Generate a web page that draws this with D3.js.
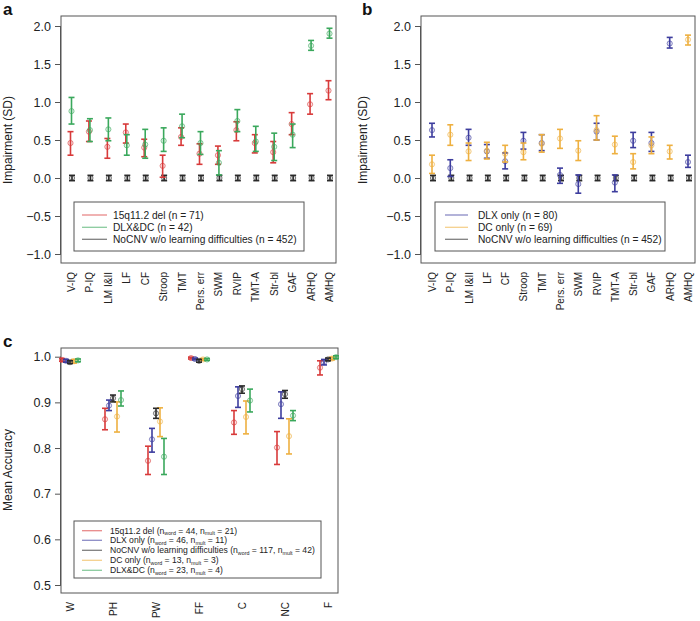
<!DOCTYPE html>
<html><head><meta charset="utf-8">
<script src="https://cdn.jsdelivr.net/npm/d3@7/dist/d3.min.js"></script>
<style>body{margin:0;background:#fff}svg{font-family:"Liberation Sans",Arial,sans-serif}</style>
</head><body><svg id="c" width="700" height="621"></svg>
<script>
// ---------- DATA ----------
const catsAB = ["V-IQ","P-IQ","LM I&II","LF","CF","Stroop","TMT","Pers. err","SWM","RVIP","TMT-A","Str-bl","GAF","ARHQ","AMHQ"];
const ticksAB = [-1.0,-0.5,0.0,0.5,1.0,1.5,2.0];

// panel a
const delMean = [0.46,0.61,0.41,0.60,0.40,0.16,0.54,0.32,0.30,0.63,0.46,0.34,0.71,0.97,1.15];
const delLo   = [0.30,0.48,0.26,0.46,0.28,0.01,0.43,0.18,0.18,0.49,0.33,0.20,0.57,0.84,1.03];
const delHi   = [0.61,0.75,0.52,0.71,0.51,0.30,0.66,0.45,0.42,0.74,0.57,0.48,0.86,1.11,1.28];
const ddMean  = [0.88,0.63,0.64,0.43,0.44,0.49,0.68,0.46,0.20,0.75,0.48,0.41,0.57,1.74,1.90];
const ddLo    = [0.71,0.48,0.49,0.30,0.26,0.35,0.53,0.31,0.04,0.61,0.35,0.23,0.40,1.68,1.84];
const ddHi    = [1.06,0.78,0.79,0.57,0.64,0.66,0.84,0.61,0.36,0.90,0.68,0.59,0.71,1.81,1.97];
const noMean  = [0,0,0,0,0,0,0,0,0,0,0,0,0,0,0];
const noLo    = [-0.035,-0.035,-0.035,-0.035,-0.035,-0.035,-0.035,-0.035,-0.035,-0.035,-0.035,-0.035,-0.035,-0.035,-0.035];
const noHi    = [0.035,0.035,0.035,0.035,0.035,0.035,0.035,0.035,0.035,0.035,0.035,0.035,0.035,0.035,0.035];

// panel b
const dlxMean = [0.63,0.13,0.53,0.35,0.22,0.49,0.46,0.04,-0.08,0.61,-0.06,0.49,0.46,1.77,0.21];
const dlxLo   = [0.54,0.02,0.43,0.26,0.12,0.38,0.36,-0.07,-0.20,0.50,-0.18,0.40,0.35,1.71,0.14];
const dlxHi   = [0.72,0.24,0.64,0.44,0.33,0.60,0.57,0.13,0.04,0.72,0.04,0.60,0.60,1.85,0.30];
const dcMean  = [0.18,0.57,0.35,0.36,0.32,0.34,0.45,0.52,0.36,0.63,0.44,0.21,0.43,0.35,1.82];
const dcLo    = [0.06,0.43,0.23,0.25,0.21,0.24,0.34,0.39,0.23,0.50,0.32,0.12,0.32,0.25,1.75];
const dcHi    = [0.30,0.70,0.46,0.47,0.43,0.46,0.57,0.64,0.49,0.82,0.55,0.32,0.54,0.43,1.88];

// panel c
const catsC = ["W","PH","PW","FF","C","NC","F"];
const ticksC = [0.5,0.6,0.7,0.8,0.9,1.0];
const cDelMean = [0.993,0.863,0.772,0.997,0.856,0.801,0.976];
const cDelLo   = [0.990,0.840,0.742,0.995,0.830,0.764,0.960];
const cDelHi   = [0.996,0.887,0.804,0.999,0.882,0.836,0.991];
const cDlxMean = [0.991,0.893,0.819,0.995,0.914,0.896,0.988];
const cDlxLo   = [0.988,0.882,0.791,0.993,0.889,0.865,0.982];
const cDlxHi   = [0.994,0.905,0.843,0.997,0.934,0.923,0.994];
const cNoMean  = [0.988,0.909,0.876,0.991,0.929,0.918,0.994];
const cNoLo    = [0.985,0.901,0.865,0.988,0.920,0.909,0.991];
const cNoHi    = [0.991,0.916,0.887,0.994,0.936,0.926,0.997];
const cDcMean  = [0.990,0.869,0.858,0.994,0.868,0.826,0.996];
const cDcLo    = [0.986,0.835,0.825,0.992,0.831,0.787,0.993];
const cDcHi    = [0.994,0.901,0.888,0.996,0.903,0.864,0.999];
const cDdMean  = [0.992,0.905,0.781,0.994,0.904,0.871,0.999];
const cDdLo    = [0.989,0.892,0.742,0.992,0.879,0.860,0.996];
const cDdHi    = [0.995,0.925,0.821,0.996,0.929,0.882,1.002];

// ---------- STYLE ----------
const COL = {del:"#d83a3a", dd:"#3aa85c", no:"#2a2a2a", dlx:"#3d3d9e", dc:"#eeb040"};
const FONT = '"Liberation Sans",Arial,sans-serif';

const svg = d3.select("#c");

function zip(m,l,h){ return m.map((v,i)=>({i, m:v, lo:l[i], hi:h[i]})); }

function panel(cfg){
  const g = svg.append("g");
  const {x0,x1,y0,y1} = cfg.box;
  const x = d3.scalePoint().domain(cfg.cats).range([x0+cfg.padL, x1-cfg.padR]);
  const y = d3.scaleLinear().domain(cfg.ydom).range(cfg.yrange);
  // box
  g.append("rect").attr("x",x0).attr("y",y0).attr("width",x1-x0).attr("height",y1-y0)
    .attr("fill","none").attr("stroke","#555").attr("stroke-width",1);
  // y axis
  const ya = d3.axisLeft(y).tickValues(cfg.yticks).tickFormat(d3.format(".1f")).tickSize(6).tickPadding(4);
  const yg = g.append("g").attr("transform",`translate(${x0},0)`).call(ya);
  yg.select(".domain").remove();
  yg.append("line").attr("x1",-0.5).attr("x2",-0.5).attr("y1",y(cfg.yticks[0])).attr("y2",y(cfg.yticks[cfg.yticks.length-1])).attr("stroke","#555");
  yg.selectAll(".tick line").attr("stroke","#555");
  yg.selectAll(".tick text").attr("font-size",12.5).attr("fill","#222").style("font-family",FONT);
  // x labels
  const xa = d3.axisBottom(x).tickSize(0).tickPadding(0);
  const xg = g.append("g").attr("transform",`translate(0,${y1})`).call(xa);
  xg.select(".domain").remove();
  xg.selectAll(".tick text").attr("font-size",cfg.xfs).attr("fill","#222")
    .attr("text-anchor","end").attr("transform","rotate(-90)")
    .attr("x",-9).attr("y",0).attr("dy","0.35em")
    .style("font-family",FONT);
  // y title
  g.append("text").attr("transform",`translate(${cfg.titleX},${cfg.titleY}) rotate(-90)`)
    .attr("text-anchor","middle").attr("font-size",12).attr("fill","#222").text(cfg.title);
  // panel letter
  g.append("text").attr("x",cfg.letterX).attr("y",cfg.letterY).attr("font-size",17)
    .attr("font-weight","bold").attr("fill","#111").text(cfg.letter);
  // series
  cfg.series.forEach(s=>{
    const sg = g.append("g").attr("stroke",s.color).attr("fill","none");
    const pts = zip(s.m,s.lo,s.hi);
    const cx = d=> x(cfg.cats[d.i]) + s.off;
    sg.selectAll("line.v").data(pts).join("line").attr("class","v")
      .attr("x1",cx).attr("x2",cx).attr("y1",d=>y(d.lo)).attr("y2",d=>y(d.hi)).attr("stroke-width",1.6);
    sg.selectAll("line.t").data(pts).join("line").attr("class","t")
      .attr("x1",d=>cx(d)-3).attr("x2",d=>cx(d)+3).attr("y1",d=>y(d.hi)).attr("y2",d=>y(d.hi)).attr("stroke-width",1.6);
    sg.selectAll("line.b").data(pts).join("line").attr("class","b")
      .attr("x1",d=>cx(d)-3).attr("x2",d=>cx(d)+3).attr("y1",d=>y(d.lo)).attr("y2",d=>y(d.lo)).attr("stroke-width",1.6);
    sg.selectAll("circle").data(pts).join("circle")
      .attr("cx",cx).attr("cy",d=>y(d.m)).attr("r",2.6).attr("stroke-width",1)
      .attr("stroke-opacity",0.6).attr("fill",s.color).attr("fill-opacity",0.12);
  });
  // legend
  const L = cfg.legend;
  g.append("rect").attr("x",L.x0).attr("y",L.y0).attr("width",L.x1-L.x0).attr("height",L.y1-L.y0)
    .attr("fill","#fff").attr("stroke","#555").attr("stroke-width",1);
  L.items.forEach((it,k)=>{
    const yy = L.rows[k];
    g.append("line").attr("x1",L.lx0).attr("x2",L.lx1).attr("y1",yy).attr("y2",yy)
      .attr("stroke",it.color).attr("stroke-opacity",0.6).attr("stroke-width",1.3);
    const t = g.append("text").attr("x",L.tx).attr("y",yy+L.fs*0.35)
      .attr("font-size",L.fs).attr("fill","#222");
    let low = false;
    it.parts.forEach(p=>{
      if (typeof p === "string") {
        const ts = t.append("tspan").text(p);
        if (low) { ts.attr("dy",-1.5); low = false; }
      } else {
        t.append("tspan").attr("font-size",L.fs*0.62).attr("dy",1.5).text(p.t);
        low = true;
      }
    });
  });
}

panel({
  box:{x0:61,x1:336,y0:16,y1:263}, cats:catsAB, padL:10, padR:7, ydom:[-1,2], yrange:[254,26], yticks:ticksAB, xfs:10,
  title:"Impairment (SD)", titleX:12, titleY:140, letter:"a", letterX:3, letterY:15,
  series:[
    {m:noMean,lo:noLo,hi:noHi,color:COL.no,off:1},
    {m:delMean,lo:delLo,hi:delHi,color:COL.del,off:-0.5},
    {m:ddMean,lo:ddLo,hi:ddHi,color:COL.dd,off:0.5}
  ],
  legend:{x0:74,x1:304,y0:202,y1:251,lx0:82,lx1:107,tx:113,fs:10.2,rows:[215,227.3,239.3],
    items:[{color:COL.del,parts:["15q11.2 del (n = 71)"]},
           {color:COL.dd,parts:["DLX&DC (n = 42)"]},
           {color:COL.no,parts:["NoCNV w/o learning difficulties (n = 452)"]}]}
});

panel({
  box:{x0:421,x1:695,y0:16,y1:263}, cats:catsAB, padL:11, padR:7, ydom:[-1,2], yrange:[254,26], yticks:ticksAB, xfs:10,
  title:"Impairment (SD)", titleX:367, titleY:140, letter:"b", letterX:362, letterY:15,
  series:[
    {m:noMean,lo:noLo,hi:noHi,color:COL.no,off:1},
    {m:dlxMean,lo:dlxLo,hi:dlxHi,color:COL.dlx,off:0},
    {m:dcMean,lo:dcLo,hi:dcHi,color:COL.dc,off:0}
  ],
  legend:{x0:435,x1:665,y0:202,y1:251,lx0:445,lx1:468,tx:478,fs:10.2,rows:[215,227.3,239.3],
    items:[{color:COL.dlx,parts:["DLX only (n = 80)"]},
           {color:COL.dc,parts:["DC only (n = 69)"]},
           {color:COL.no,parts:["NoCNV w/o learning difficulties (n = 452)"]}]}
});

function nParts(label,w,m){
  return [label+" (n",{t:"word"}," = "+w+", n",{t:"mult"}," = "+m+")"];
}
panel({
  box:{x0:61,x1:338,y0:348,y1:593}, cats:catsC, padL:9, padR:10, ydom:[0.5,1.0], yrange:[585,356.7], yticks:ticksC, xfs:10,
  title:"Mean Accuracy", titleX:12, titleY:470, letter:"c", letterX:3, letterY:347,
  series:[
    {m:cDelMean,lo:cDelLo,hi:cDelHi,color:COL.del,off:-8},
    {m:cDlxMean,lo:cDlxLo,hi:cDlxHi,color:COL.dlx,off:-4},
    {m:cDcMean,lo:cDcLo,hi:cDcHi,color:COL.dc,off:4},
    {m:cDdMean,lo:cDdLo,hi:cDdHi,color:COL.dd,off:8},
    {m:cNoMean,lo:cNoLo,hi:cNoHi,color:COL.no,off:0}
  ],
  legend:{x0:74,x1:321,y0:521,y1:578,lx0:82,lx1:102,tx:110,fs:8.6,rows:[530.7,540.3,550.3,560.3,570.3],
    items:[{color:COL.del,parts:nParts("15q11.2 del",44,21)},
           {color:COL.dlx,parts:nParts("DLX only",46,11)},
           {color:COL.no,parts:nParts("NoCNV w/o learning difficulties",117,42)},
           {color:COL.dc,parts:nParts("DC only",13,3)},
           {color:COL.dd,parts:nParts("DLX&DC",23,4)}]}
});
</script></body></html>
